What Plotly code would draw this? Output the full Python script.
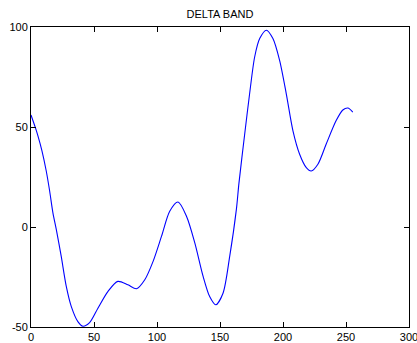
import plotly.graph_objects as go

x_vals = [0, 3.4, 5.5, 8.7, 12.1, 14.8, 17.4, 20.1, 24, 28, 32, 37.2, 41.2, 46.5, 53.1, 61, 68.9,
          76.9, 83.7, 90.3, 96.9, 103.6, 110.1, 116.7, 123.4, 130, 136.6, 141.8, 146.6,
          152.4, 157.7, 163, 165, 169.6, 173.5, 177.5, 181.5, 186.8, 192, 197.3, 202.6,
          207.9, 213.2, 218.5, 222.4, 227.7, 234.3, 242.2, 247.5, 251.5, 255.4]
y_vals = [56, 49.8, 45.6, 38.1, 28, 18, 7.1, -1.3, -14.7, -29.7, -39.8, -47.3, -49.6, -47.8,
          -40.6, -32.3, -27.2, -28.9, -30.9, -26.4, -17.2, -4.6, 7.9, 12.5, 5.4, -7.9,
          -24.7, -34.8, -38.9, -33.1, -14.7, 8.8, 21.7, 46.5, 66.6, 85, 94.2, 98.4, 94.2,
          83.3, 66.6, 48.1, 36.4, 29.7, 28, 31.4, 41.5, 53.2, 58.5, 59.5, 57.4]

x_ticks = [0, 50, 100, 150, 200, 250, 300]
x_tick_labels = ["0", "50", "100", "150", "200", "250", "300"]
y_ticks = [-50, 0, 50, 100]
y_tick_labels = ["-50", "0", "50", "100"]
x_range = [0, 300]
y_range = [-50, 100]

fig = go.Figure()
fig.add_trace(go.Scatter(x=x_vals, y=y_vals, mode="lines",
                         line=dict(color="#0000ff", width=1.1, shape="spline", smoothing=0.8),
                         showlegend=False, hoverinfo="skip", cliponaxis=False))
# invisible trace to anchor the mirrored (top/right) axes
fig.add_trace(go.Scatter(x=x_vals, y=y_vals, mode="lines", xaxis="x2", yaxis="y2",
                         line=dict(color="rgba(0,0,0,0)", width=0),
                         showlegend=False, hoverinfo="skip"))

axis_common = dict(showgrid=False, zeroline=False, showline=True, linecolor="black",
                   linewidth=1, ticks="inside", ticklen=5, tickcolor="black",
                   automargin=False, ticklabeloverflow="allow",
                   tickfont=dict(family="Liberation Sans, Arial", size=11, color="black"))

fig.update_layout(
    width=417, height=343,
    margin=dict(l=31, r=8, t=27, b=16, autoexpand=False),
    paper_bgcolor="white", plot_bgcolor="white",
    title=dict(text="DELTA BAND", x=0.5, xref="paper", y=1 - 14/343, yanchor="middle",
               font=dict(family="Liberation Sans, Arial", size=11, color="black")),
    xaxis=dict(range=x_range, tickvals=x_ticks, ticktext=x_tick_labels, **axis_common),
    yaxis=dict(range=y_range, tickvals=y_ticks, ticktext=y_tick_labels, **axis_common),
    xaxis2=dict(range=x_range, tickvals=x_ticks, showticklabels=False, side="top",
                overlaying="x", anchor="y2", **axis_common),
    yaxis2=dict(range=y_range, tickvals=y_ticks, showticklabels=False, side="right",
                overlaying="y", anchor="x2", **axis_common),
)

fig.write_html("out.html")
